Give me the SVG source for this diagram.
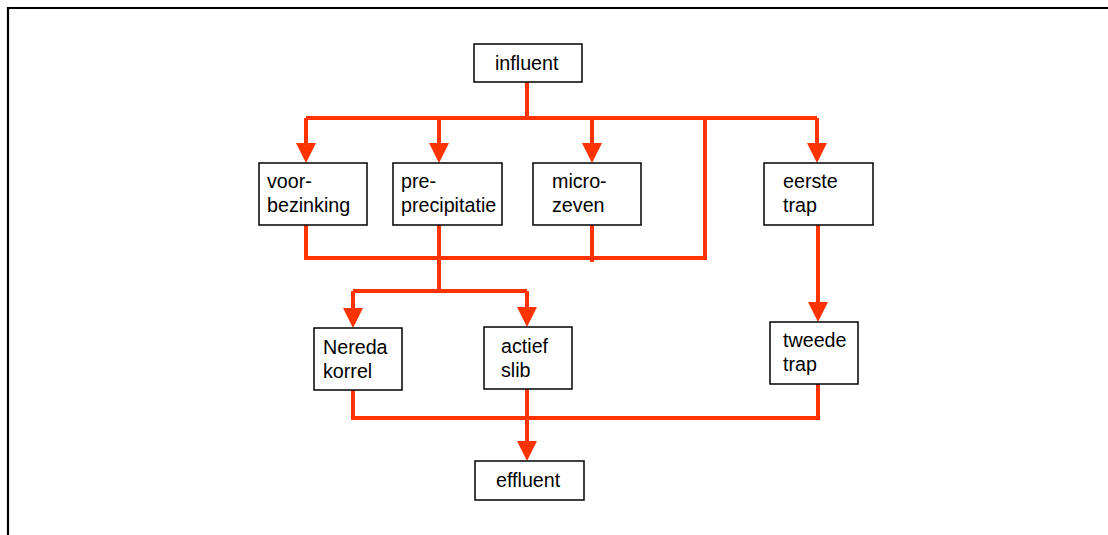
<svg xmlns="http://www.w3.org/2000/svg" width="1108" height="535" viewBox="0 0 1108 535">
<defs>
<style>
.box{fill:#fff;stroke:#000;stroke-width:1.5}
.t{font-family:"Liberation Sans",Arial,sans-serif;font-size:19.7px;fill:#000}
.c{fill:none;stroke:#FF3300;stroke-width:4}
.ah{fill:#FF3300}
</style>
</defs>
<rect x="0" y="0" width="1108" height="535" fill="#fff"/>
<path d="M8,535 V8 H1108" fill="none" stroke="#000" stroke-width="2.2"/>
<g id="connectors">
<path class="c" d="M527,82 V118"/>
<path class="c" d="M306,118 H817"/>
<path class="c" d="M306,118 V145"/>
<path class="c" d="M439,118 V145"/>
<path class="c" d="M592,118 V145"/>
<path class="c" d="M817,118 V145"/>
<path class="c" d="M705,118 V258 H306 V225"/>
<path class="c" d="M439,225 V291"/>
<path class="c" d="M592,225 V262"/>
<path class="c" d="M353,291 H527"/>
<path class="c" d="M353,291 V310"/>
<path class="c" d="M527,291 V310"/>
<path class="c" d="M353,390 V418 H818 V384"/>
<path class="c" d="M527,389 V443"/>
<path class="c" d="M818,225 V304"/>
<polygon class="ah" points="296,143 316,143 306,163"/>
<polygon class="ah" points="429,143 449,143 439,163"/>
<polygon class="ah" points="582,143 602,143 592,163"/>
<polygon class="ah" points="807,143 827,143 817,163"/>
<polygon class="ah" points="343,308 363,308 353,328"/>
<polygon class="ah" points="517,307 537,307 527,327"/>
<polygon class="ah" points="808,302 828,302 818,322"/>
<polygon class="ah" points="517,441 537,441 527,461"/>
</g>
<g id="influent"><rect class="box" x="474" y="44" width="108" height="38"/><text class="t" x="495" y="70">influent</text></g>
<g id="voorbezinking"><rect class="box" x="259" y="163" width="108" height="62"/><text class="t" x="267" y="188">voor-</text><text class="t" x="267" y="212">bezinking</text></g>
<g id="preprecipitatie"><rect class="box" x="393" y="163" width="109" height="62"/><text class="t" x="401" y="188">pre-</text><text class="t" x="401" y="212">precipitatie</text></g>
<g id="microzeven"><rect class="box" x="533" y="163" width="108" height="62"/><text class="t" x="552" y="188">micro-</text><text class="t" x="552" y="212">zeven</text></g>
<g id="eerstetrap"><rect class="box" x="764" y="163" width="109" height="62"/><text class="t" x="783" y="188">eerste</text><text class="t" x="783" y="212">trap</text></g>
<g id="neredakorrel"><rect class="box" x="314" y="328" width="88" height="62"/><text class="t" x="323" y="354">Nereda</text><text class="t" x="323" y="378">korrel</text></g>
<g id="actiefslib"><rect class="box" x="484" y="327" width="88" height="62"/><text class="t" x="501" y="353">actief</text><text class="t" x="501" y="377">slib</text></g>
<g id="tweedetrap"><rect class="box" x="770" y="322" width="88" height="62"/><text class="t" x="783" y="347">tweede</text><text class="t" x="783" y="371">trap</text></g>
<g id="effluent"><rect class="box" x="475" y="461" width="109" height="39"/><text class="t" x="496" y="487">effluent</text></g>
</svg>
